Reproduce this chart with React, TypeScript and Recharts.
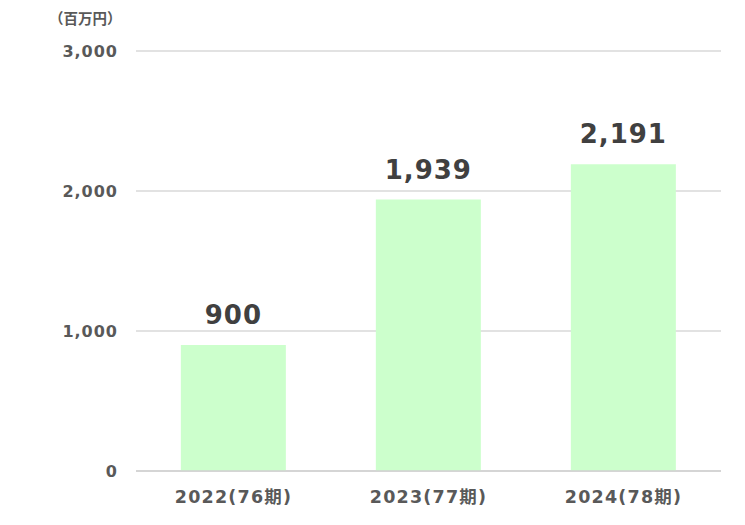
import React from 'react';
import { BarChart, Bar, XAxis, YAxis, CartesianGrid, LabelList } from 'recharts';

const categories = ['2022(76期)', '2023(77期)', '2024(78期)'];
const values = [900, 1939, 2191];
const yTicks = [0, 1000, 2000, 3000];

const data = categories.map((name, i) => ({ name, value: values[i] }));

const FONT = '"DejaVu Sans", "Noto Sans CJK JP", sans-serif';

const App: React.FC = () => {
  return (
    <div style={{ position: 'absolute', left: 0, top: 0, width: 745, height: 525, background: '#fff', fontFamily: FONT }}>
      <div
        style={{
          position: 'absolute',
          left: 49,
          top: 9,
          fontSize: 14.5,
          lineHeight: '17px',
          fontWeight: 'bold',
          color: '#595959',
          fontFamily: '"Noto Sans CJK JP", sans-serif',
        }}
      >
        （百万円）
      </div>
      <BarChart
        width={745}
        height={525}
        data={data}
        margin={{ top: 51, right: 24, bottom: 24, left: 0 }}
        barCategoryGap="23%"
      >
        <CartesianGrid vertical={false} stroke="#d9d9d9" strokeWidth={1.5} />
        <XAxis
          dataKey="name"
          height={30}
          tickLine={false}
          tickSize={0}
          tickMargin={20}
          axisLine={{ stroke: '#d0d0d0', strokeWidth: 1.5 }}
          tick={{ fill: '#595959', fontSize: 17.5, fontWeight: 'bold', fontFamily: FONT, letterSpacing: 1.2 }}
        />
        <YAxis
          width={136}
          domain={[0, 3000]}
          ticks={yTicks}
          tickFormatter={(v: number) => v.toLocaleString('en-US')}
          axisLine={false}
          tickLine={false}
          tickSize={0}
          tickMargin={18}
          tick={{ fill: '#595959', fontSize: 16, fontWeight: 'bold', fontFamily: FONT, letterSpacing: 1 }}
        />
        <Bar dataKey="value" fill="#ccffcc" isAnimationActive={false}>
          <LabelList
            dataKey="value"
            position="top"
            offset={21}
            formatter={(v: number) => v.toLocaleString('en-US')}
            style={{ fill: '#404040', fontSize: 26, fontWeight: 'bold', fontFamily: FONT, letterSpacing: 1 }}
          />
        </Bar>
      </BarChart>
    </div>
  );
};

export default App;
